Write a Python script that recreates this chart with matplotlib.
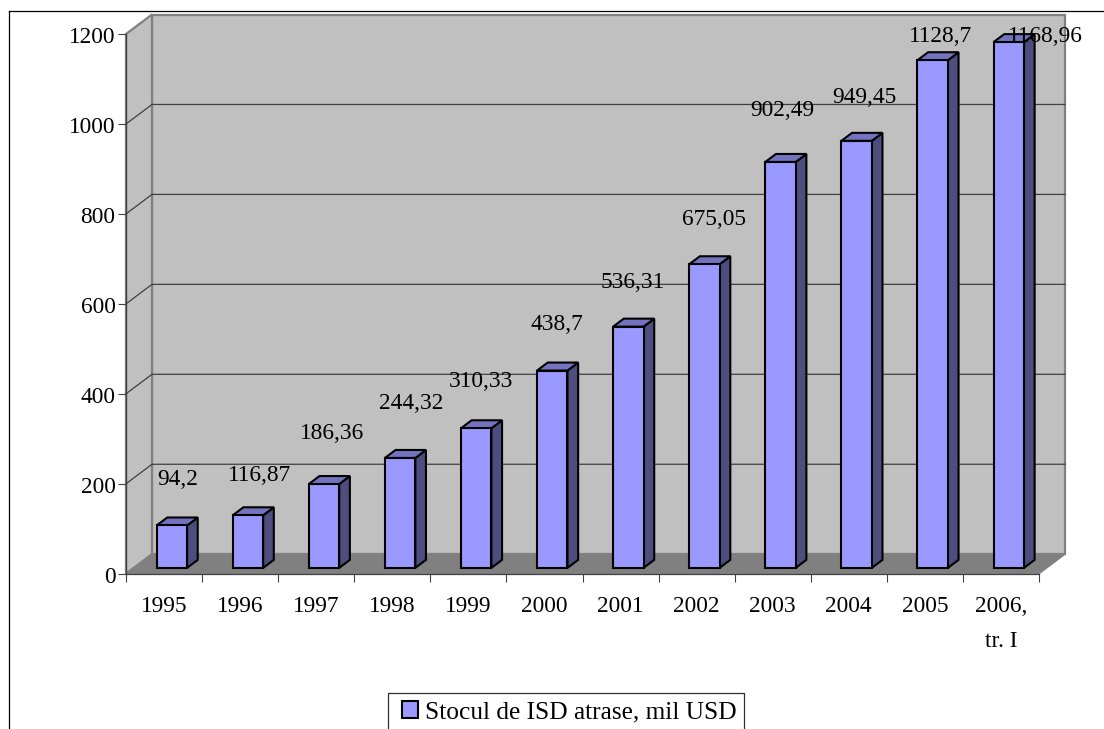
import matplotlib
matplotlib.use('Agg')
import matplotlib.pyplot as plt
from matplotlib.legend_handler import HandlerPatch
from matplotlib.lines import Line2D
from matplotlib.patches import Patch, Polygon
from matplotlib.transforms import ScaledTranslation

plt.rcParams['font.family'] = ['Liberation Serif', 'DejaVu Serif']

years = ['1995', '1996', '1997', '1998', '1999', '2000', '2001', '2002',
         '2003', '2004', '2005', '2006,\ntr. I']
stock = [94.2, 116.87, 186.36, 244.32, 310.33, 438.7, 536.31, 675.05,
         902.49, 949.45, 1128.7, 1168.96]
y_ticks = [0, 200, 400, 600, 800, 1000, 1200]
series_name = 'Stocul de ISD atrase, mil USD'

# label nudges in pixels from the bar top, the original places them by hand
label_dx = [6, 12, 8, 11, 5, 5, 4, 10, 2, 8, 8, 37]
label_dy = [46, 40, 51, 54, 47, 46, 44, 45, 51, 43, 24, 6]

W, H = 1104, 729
FONT = 16.8
LEGEND_FONT = 18.3

# depth of the 3d box, in data units
DX = 26 / 76.08
DY = 19.5 / 0.45
BAR_W = 0.40
FRONT, BACK = 0.30, 0.71

FACE = '#9999FF'
SIDE = '#4D4D80'
TOP = '#7373BF'
WALL = '#C0C0C0'
FLOOR = '#808080'

fig = plt.figure(figsize=(W / 100, H / 100), dpi=100)
ax = fig.add_axes([126 / W, 1 - 573.7 / H, 913 / W, 539.7 / H])
ax.set_xlim(0, len(years))
ax.set_ylim(0, 1200)
ax.patch.set_visible(False)

n = len(years)
top = y_ticks[-1]

# walls and floor
ax.add_patch(Polygon([(DX, DY), (n + DX, DY), (n + DX, top + DY), (DX, top + DY)],
                     fc=WALL, ec=FLOOR, lw=1.6, clip_on=False, zorder=1))
ax.add_patch(Polygon([(0, 0), (DX, DY), (DX, top + DY), (0, top)],
                     fc=WALL, ec=FLOOR, lw=1.6, clip_on=False, zorder=1))
ax.add_patch(Polygon([(0, 0), (n, 0), (n + DX, DY), (DX, DY)],
                     fc=FLOOR, ec=FLOOR, lw=1, clip_on=False, zorder=2))

# grid on the walls
for t in y_ticks[1:-1]:
    ax.plot([0, DX, n + DX], [t, t + DY, t + DY], color='#404040', lw=0.9,
            clip_on=False, zorder=2)

# bars, they never overlap so the order does not matter
for i, v in enumerate(stock):
    x0 = i + 0.5 - BAR_W / 2 + FRONT * DX
    x1 = x0 + BAR_W
    y0 = FRONT * DY
    sx = (BACK - FRONT) * DX
    sy = (BACK - FRONT) * DY
    ax.bar(x0, v, width=BAR_W, bottom=y0, align='edge', color=FACE,
           edgecolor='black', linewidth=1.5, zorder=4, clip_on=False)
    ax.add_patch(Polygon([(x1, y0), (x1 + sx, y0 + sy), (x1 + sx, y0 + v + sy), (x1, y0 + v)],
                         fc=SIDE, ec='black', lw=1.5, clip_on=False, zorder=3))
    ax.add_patch(Polygon([(x0, y0 + v), (x1, y0 + v), (x1 + sx, y0 + v + sy), (x0 + sx, y0 + v + sy)],
                         fc=TOP, ec='black', lw=1.5, clip_on=False, zorder=3))
    ax.annotate(str(v).replace('.', ','), (i + 0.5 + FRONT * DX, y0 + v),
                xytext=(label_dx[i], label_dy[i]), textcoords='offset pixels',
                ha='center', va='center', fontsize=FONT, color='black',
                annotation_clip=False, zorder=6)

# axes
for s in ['top', 'right']:
    ax.spines[s].set_visible(False)
for s in ['left', 'bottom']:
    ax.spines[s].set_color('#404040')
    ax.spines[s].set_linewidth(0.9)
    ax.spines[s].set_zorder(5)

ax.set_yticks(y_ticks)
ax.set_xticks(range(n + 1))
ax.set_xticklabels([])
ax.set_xticks([i + 0.5 for i in range(n)], minor=True)
ax.set_xticklabels(years, minor=True, fontsize=FONT, linespacing=1.85)
ax.tick_params(axis='y', length=5.5, width=0.8, color='#404040', labelsize=FONT, pad=2)
ax.tick_params(axis='x', which='major', length=6, width=0.8, color='#404040')
ax.tick_params(axis='x', which='minor', length=0, pad=16)

# the y labels sit a little under their ticks in the original
shift = ScaledTranslation(0, -1.5 / 100, fig.dpi_scale_trans)
for label in ax.get_yticklabels():
    label.set_transform(label.get_transform() + shift)

# chart frame, only top and left survive the crop
fig.add_artist(Line2D([9 / W, 1], [1 - 11 / H, 1 - 11 / H], color='black', lw=0.9))
fig.add_artist(Line2D([9 / W, 9 / W], [1 - 11 / H, 0], color='black', lw=0.9))

handle = Patch(facecolor=FACE, edgecolor='black', linewidth=1.5)
leg = fig.legend([handle], [series_name], loc='lower left',
                 bbox_to_anchor=(388 / W, 1 - 731 / H), bbox_transform=fig.transFigure,
                 fontsize=LEGEND_FONT, handlelength=0.88, handleheight=0.63,
                 handletextpad=0.275, borderpad=0.3, borderaxespad=0,
                 fancybox=False, framealpha=1, edgecolor='#303030',
                 handler_map={Patch: HandlerPatch(xpad=0.24)})
leg.get_frame().set_linewidth(0.9)

fig.savefig('out.png', dpi=100)
